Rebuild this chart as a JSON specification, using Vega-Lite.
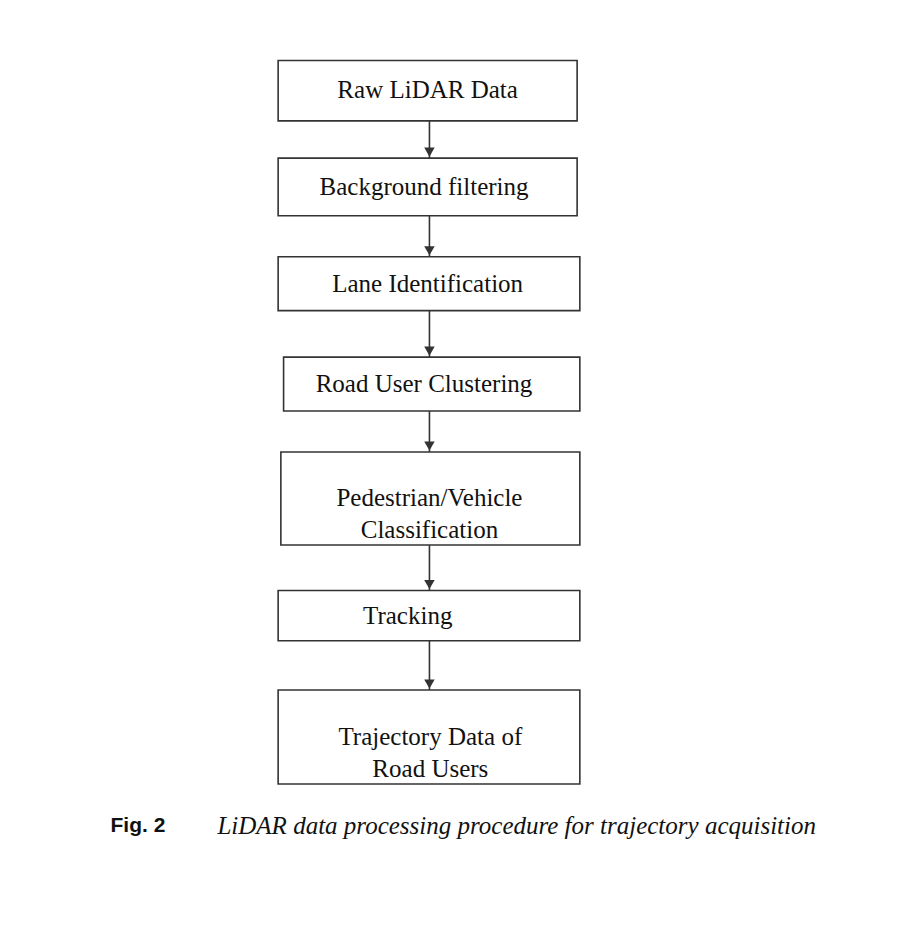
{
  "$schema": "https://vega.github.io/schema/vega-lite/v6.json",
  "width": 906,
  "height": 930,
  "autosize": "none",
  "padding": 0,
  "background": "white",
  "config": {"view": {"stroke": null}},
  "datasets": {
    "boxes": [
      {"step": "Raw LiDAR Data", "x": 307, "x2": 637, "y": 65, "y2": 130, "cx": 472, "cy": 97},
      {"step": "Background filtering", "x": 307, "x2": 637, "y": 170, "y2": 232, "cx": 468, "cy": 201},
      {"step": "Lane Identification", "x": 307, "x2": 640, "y": 276, "y2": 334, "cx": 472, "cy": 305},
      {"step": "Road User Clustering", "x": 313, "x2": 640, "y": 384, "y2": 442, "cx": 468, "cy": 413},
      {"step": "Pedestrian/Vehicle\nClassification", "x": 310, "x2": 640, "y": 486, "y2": 586, "cx": 474, "cy": 536},
      {"step": "Tracking", "x": 307, "x2": 640, "y": 635, "y2": 689, "cx": 450, "cy": 662},
      {"step": "Trajectory Data of\nRoad Users", "x": 307, "x2": 640, "y": 742, "y2": 843, "cx": 475, "cy": 793}
    ],
    "arrows": [
      {"x": 474, "y": 130, "y2": 170},
      {"x": 474, "y": 232, "y2": 276},
      {"x": 474, "y": 334, "y2": 384},
      {"x": 474, "y": 442, "y2": 486},
      {"x": 474, "y": 586, "y2": 635},
      {"x": 474, "y": 689, "y2": 742}
    ]
  },
  "layer": [
    {
      "data": {"name": "boxes"},
      "mark": {"type": "rect", "fill": "white", "stroke": "#333", "strokeWidth": 1.6},
      "encoding": {
        "x": {"field": "x", "type": "quantitative", "scale": {"domain": [0, 906], "range": [0, 906]}, "axis": null},
        "x2": {"field": "x2"},
        "y": {"field": "y", "type": "quantitative", "scale": {"domain": [0, 930], "range": [0, 930]}, "axis": null},
        "y2": {"field": "y2"}
      }
    },
    {
      "data": {"name": "boxes"},
      "mark": {"type": "text", "font": "Liberation Serif", "fontSize": 25, "lineBreak": "\n", "lineHeight": 32, "color": "#111", "align": "center", "baseline": "middle"},
      "encoding": {
        "x": {"field": "cx", "type": "quantitative"},
        "y": {"field": "cy", "type": "quantitative"},
        "text": {"field": "step"}
      }
    },
    {
      "data": {"name": "arrows"},
      "mark": {"type": "rule", "stroke": "#333", "strokeWidth": 1.6},
      "encoding": {
        "x": {"field": "x", "type": "quantitative"},
        "y": {"field": "y", "type": "quantitative"},
        "y2": {"field": "y2"}
      }
    },
    {
      "data": {"name": "arrows"},
      "mark": {"type": "point", "shape": "triangle-down", "filled": true, "color": "#333", "size": 110, "opacity": 1, "yOffset": -6},
      "encoding": {
        "x": {"field": "x", "type": "quantitative"},
        "y": {"field": "y2", "type": "quantitative"}
      }
    },
    {
      "data": {"values": [{"t": "Fig. 2", "x": 122, "y": 888}]},
      "mark": {"type": "text", "font": "Liberation Sans", "fontWeight": "bold", "fontSize": 21, "align": "left", "baseline": "middle", "color": "#111"},
      "encoding": {
        "x": {"field": "x", "type": "quantitative"},
        "y": {"field": "y", "type": "quantitative"},
        "text": {"field": "t"}
      }
    },
    {
      "data": {"values": [{"t": "LiDAR data processing procedure for trajectory acquisition", "x": 240, "y": 888}]},
      "mark": {"type": "text", "font": "Liberation Serif", "fontStyle": "italic", "fontSize": 25, "align": "left", "baseline": "middle", "color": "#111"},
      "encoding": {
        "x": {"field": "x", "type": "quantitative"},
        "y": {"field": "y", "type": "quantitative"},
        "text": {"field": "t"}
      }
    }
  ]
}
